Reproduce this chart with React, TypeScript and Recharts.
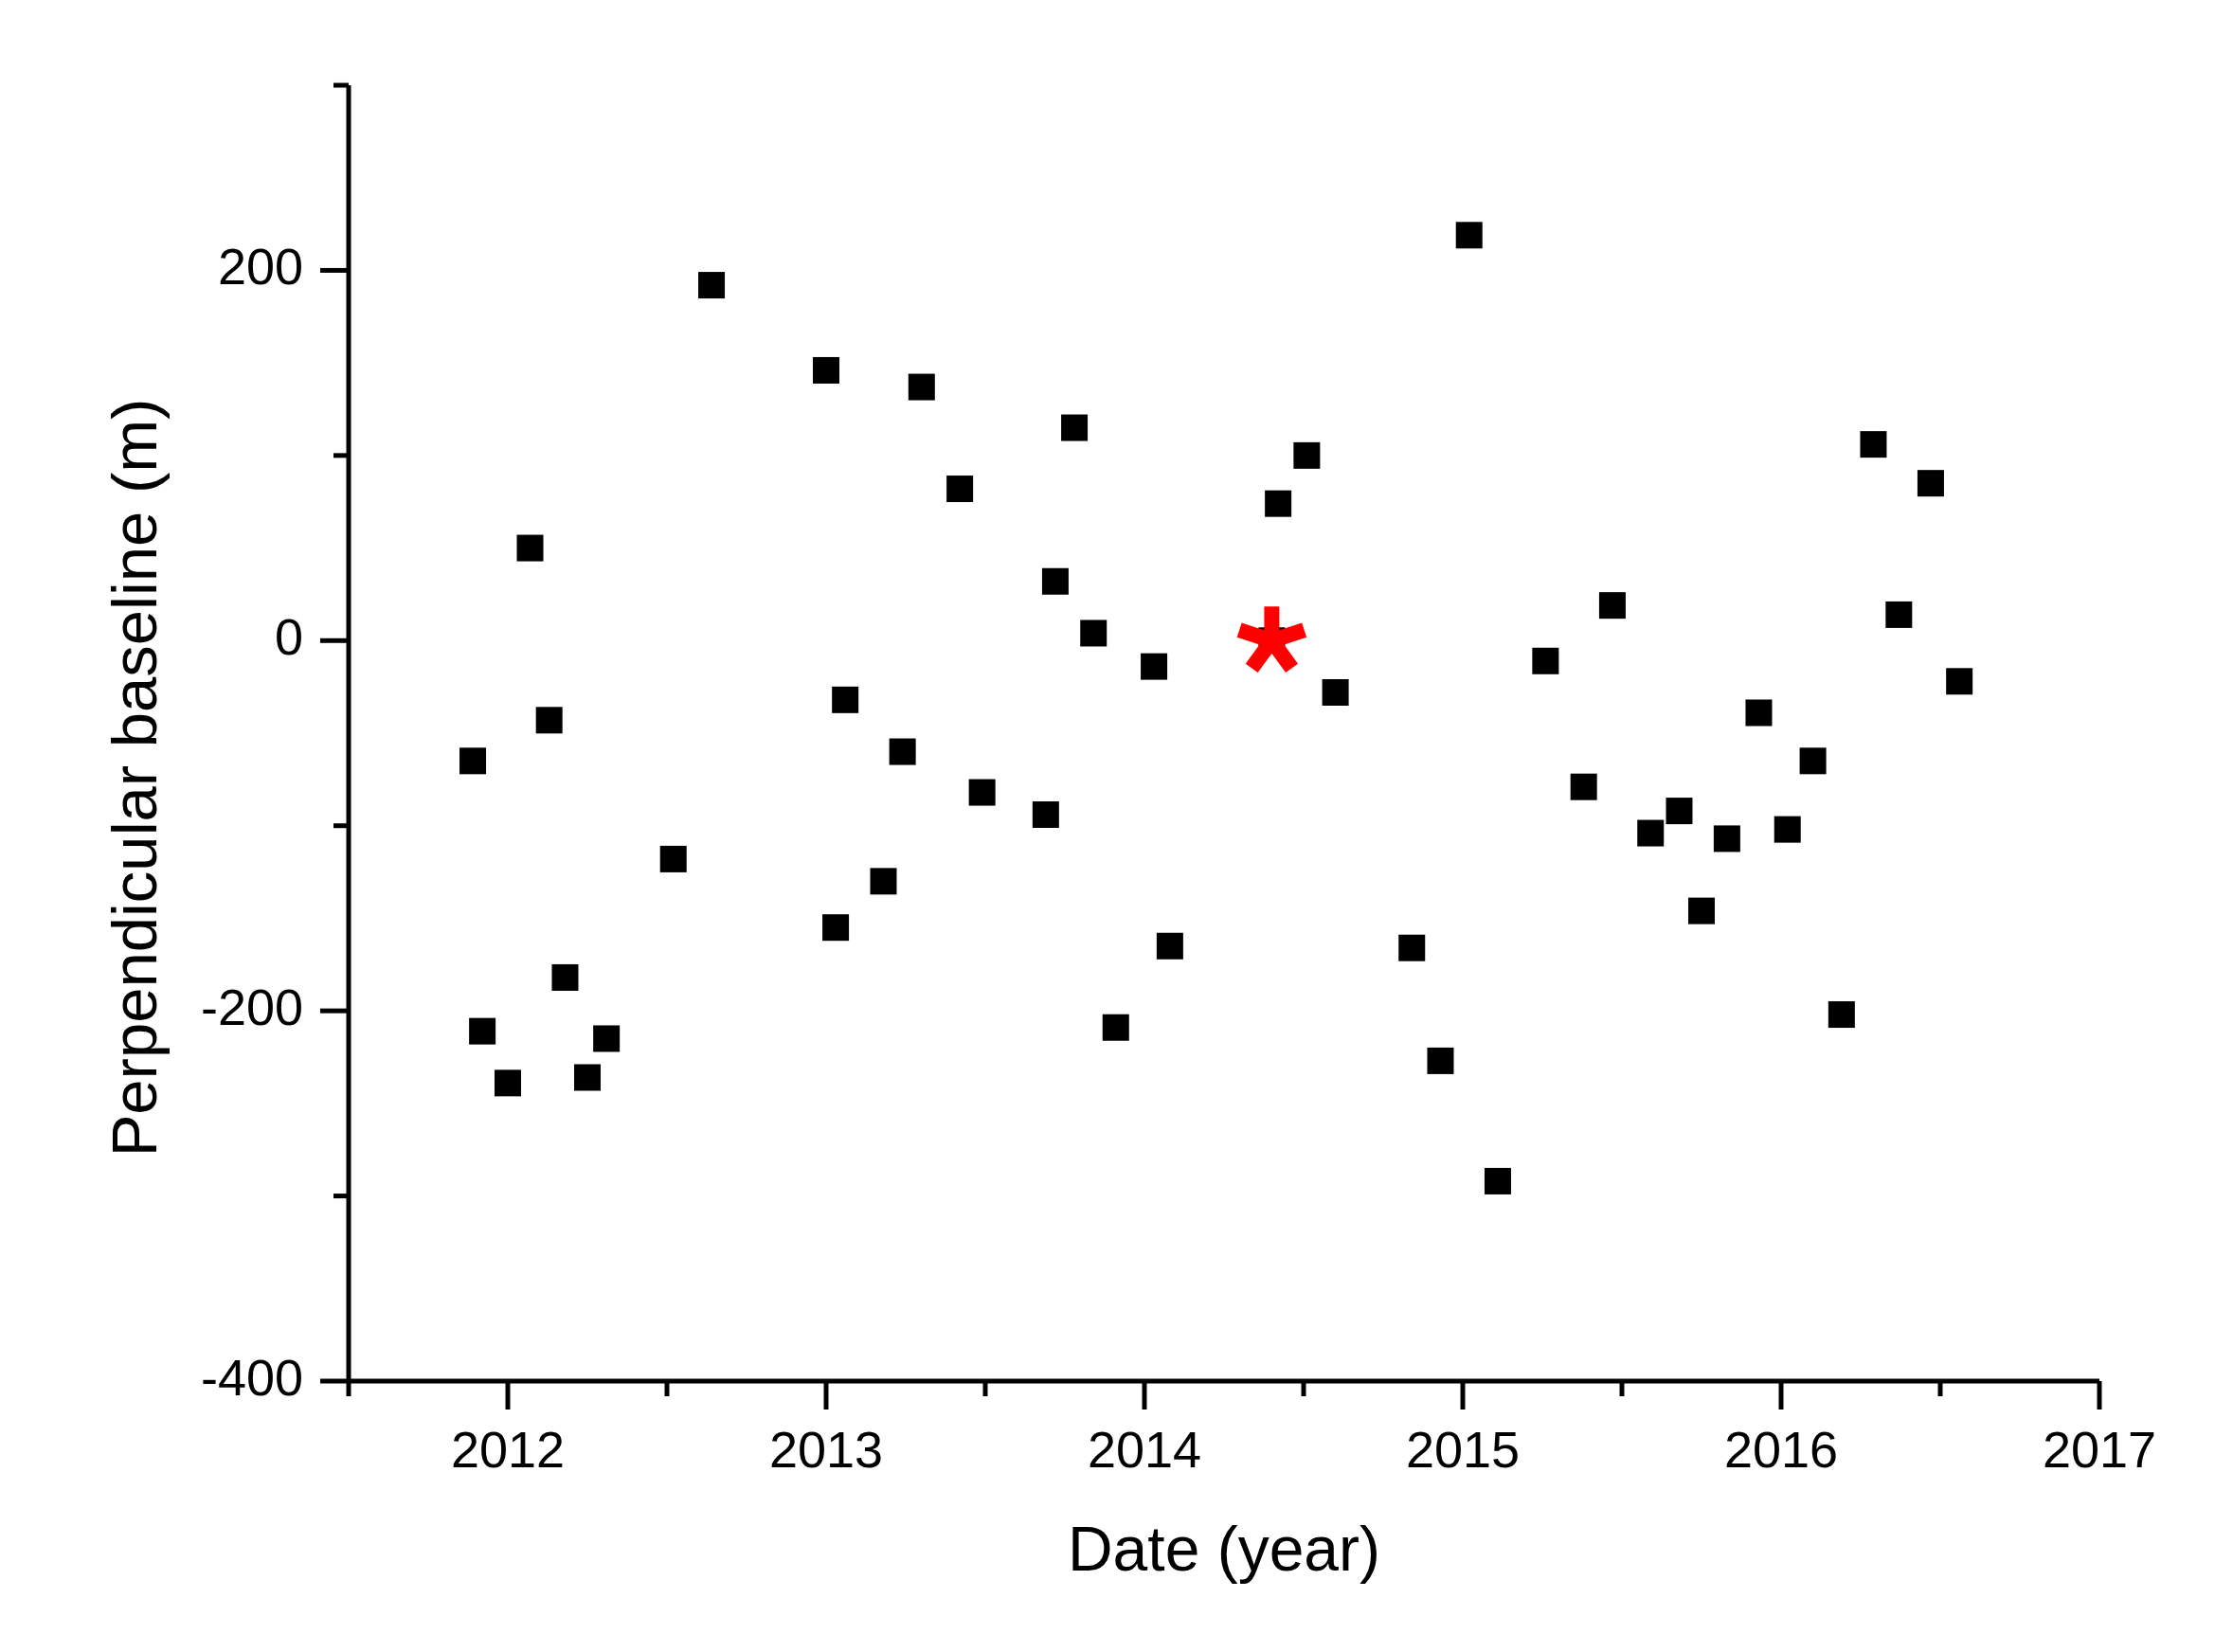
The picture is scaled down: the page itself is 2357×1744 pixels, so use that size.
import { ScatterChart, Scatter, XAxis, YAxis, Label } from 'recharts';

// acquisition dates (decimal year) and perpendicular baselines (m)
const dates = [
  2011.89, 2011.92, 2012.0, 2012.07, 2012.13, 2012.18, 2012.25, 2012.31, 2012.52, 2012.64,
  2013.0, 2013.03, 2013.06, 2013.18, 2013.24, 2013.3, 2013.42, 2013.49, 2013.69, 2013.72,
  2013.78, 2013.84, 2013.91, 2014.03, 2014.08, 2014.4, 2014.42, 2014.51, 2014.6, 2014.84,
  2014.93, 2015.02, 2015.11, 2015.26, 2015.38, 2015.47, 2015.59, 2015.68, 2015.75, 2015.83,
  2015.93, 2016.02, 2016.1, 2016.19, 2016.29, 2016.37, 2016.47, 2016.56,
];
const baselines = [
  -65, -211, -239, 50, -43, -182, -236, -215, -118, 192,
  146, -155, -32, -130, -60, 137, 82, -82, -94, 32,
  115, 4, -209, -14, -165, 0, 74, 100, -28, -166,
  -227, 219, -292, -11, -79, 19, -104, -92, -146, -107,
  -39, -102, -65, -202, 106, 14, 85, -22,
];

// master image
const masterDate = [2014.4];
const masterBaseline = [0];

const xTicks = [2011.5, 2012, 2012.5, 2013, 2013.5, 2014, 2014.5, 2015, 2015.5, 2016, 2016.5, 2017];
const yTicks = [-400, -300, -200, -100, 0, 100, 200, 300];
const yLabels = [-400, -200, 0, 200];

const slaves = dates.map((d, i) => ({ x: d, y: baselines[i] }));
const master = masterDate.map((d, i) => ({ x: d, y: masterBaseline[i] }));

const FONT = '"Liberation Sans", Arial, sans-serif';

const XTick = (props: any) => {
  const { x, y, payload } = props;
  const major = Number.isInteger(payload.value);
  return (
    <g>
      <line x1={x} y1={y} x2={x} y2={y + (major ? 30 : 16)} stroke="#000" strokeWidth={5} />
      {major && (
        <text x={x} y={y + 91} textAnchor="middle" fontFamily={FONT} fontSize={54} fill="#000">
          {payload.value}
        </text>
      )}
    </g>
  );
};

const YTick = (props: any) => {
  const { x, y, payload } = props;
  const major = yLabels.includes(payload.value);
  return (
    <g>
      <line x1={x} y1={y} x2={x - (major ? 30 : 16)} y2={y} stroke="#000" strokeWidth={5} />
      {major && (
        <text x={x - 48} y={y + 15} textAnchor="end" fontFamily={FONT} fontSize={54} fill="#000">
          {payload.value}
        </text>
      )}
    </g>
  );
};

const Square = (props: any) => {
  const { cx, cy } = props;
  return <rect x={cx - 14} y={cy - 14} width={28} height={28} fill="#000" />;
};

const Asterisk = (props: any) => {
  const { cx, cy } = props;
  const arms = [0, 72, 144, 216, 288];
  return (
    <g>
      {arms.map((a) => {
        const r = ((a - 90) * Math.PI) / 180;
        return (
          <line
            key={a}
            x1={cx}
            y1={cy}
            x2={cx + 36 * Math.cos(r)}
            y2={cy + 36 * Math.sin(r)}
            stroke="#ff0000"
            strokeWidth={16}
          />
        );
      })}
    </g>
  );
};

export default function App() {
  return (
    <ScatterChart width={2341} height={1728} margin={{ top: 82, right: 133, left: 0, bottom: 0 }}>
      <XAxis
        type="number"
        dataKey="x"
        domain={[2011.5, 2017]}
        ticks={xTicks}
        interval={0}
        height={278}
        tickSize={0}
        tickMargin={0}
        tickLine={false}
        tick={<XTick />}
        axisLine={{ stroke: '#000', strokeWidth: 5 }}
        allowDataOverflow
      >
        <Label
          content={(p: any) => {
            const vb = p.viewBox;
            return (
              <text x={vb.x + vb.width / 2} y={vb.y + 200} textAnchor="middle" fontFamily={FONT} fontSize={66} fill="#000">
                Date (year)
              </text>
            );
          }}
        />
      </XAxis>
      <YAxis
        type="number"
        dataKey="y"
        domain={[-400, 300]}
        ticks={yTicks}
        interval={0}
        width={360}
        tickSize={0}
        tickMargin={0}
        tickLine={false}
        tick={<YTick />}
        axisLine={{ stroke: '#000', strokeWidth: 5 }}
        allowDataOverflow
      >
        <Label
          content={() => (
            <text
              x={157}
              y={813}
              transform="rotate(-90 157 813)"
              textAnchor="middle"
              fontFamily={FONT}
              fontSize={67}
              fill="#000"
            >
              Perpendicular baseline (m)
            </text>
          )}
        />
      </YAxis>
      <Scatter data={slaves} shape={<Square />} isAnimationActive={false} />
      <Scatter data={master} shape={<Asterisk />} isAnimationActive={false} />
    </ScatterChart>
  );
}
